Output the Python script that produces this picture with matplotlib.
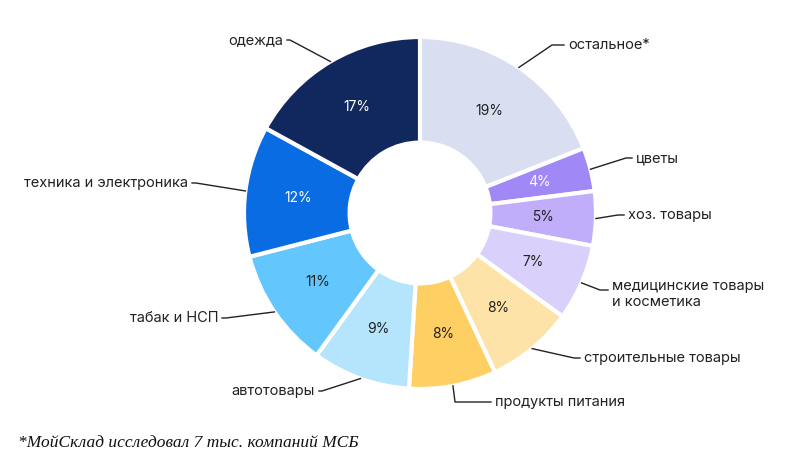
import matplotlib
matplotlib.use("Agg")
import matplotlib.pyplot as plt
import numpy as np

categories = ["остальное*", "цветы", "хоз. товары", "медицинские товары\nи косметика",
              "строительные товары", "продукты питания", "автотовары", "табак и НСП",
              "техника и электроника", "одежда"]
values = [19, 4, 5, 7, 8, 8, 9, 11, 12, 17]
colors = ["#d9dff1", "#a088f6", "#c1aefb", "#d9d0fc", "#fee3a8", "#fecf62",
          "#b4e5fd", "#63c6fd", "#0a6ce2", "#11285f"]
pct_colors = ["#222", "white", "#222", "#222", "#222", "#222", "#222", "#222", "white", "white"]
# label positions in pixels (x, y, ha) and elbow points
label_pos = [(568, 45, "left", 552, 45), (636, 158, "left", 626, 158),
             (628, 215, "left", 618, 215), (612, 294, "left", 600, 290),
             (584, 358, "left", 574, 358), (495, 402, "left", 455, 402),
             (315, 391, "right", 322, 391), (218, 318, "right", 226, 318),
             (188, 183, "right", 196, 183), (283, 40, "right", 290, 40)]

W, H = 798, 467
cx, cy, R = 420, 213, 176
fig = plt.figure(figsize=(W/100, H/100), dpi=100)
half = 1.02 * R
ax = fig.add_axes([(cx-half)/W, (H-cy-half)/H, 2*half/W, 2*half/H])

wedges, _ = ax.pie(values, colors=colors, startangle=90, counterclock=False, radius=1.0,
                   wedgeprops=dict(width=0.6, edgecolor="white", linewidth=3))
ax.set_xlim(-1.02, 1.02); ax.set_ylim(-1.02, 1.02); ax.axis("off")

def p2d(px, py):
    return (px-cx)/R, (cy-py)/R

for w, v, c, lab, (tx, ty, ha, ex, ey) in zip(wedges, values, pct_colors, categories, label_pos):
    a = np.deg2rad((w.theta1 + w.theta2) / 2)
    ax.text(0.7*np.cos(a), 0.7*np.sin(a), f"{v}%", ha="center", va="center",
            fontsize=10, color=c, family="Inter")
    sx, sy = 1.0*np.cos(a), 1.0*np.sin(a)
    exd, eyd = p2d(ex, ey)
    txd, tyd = p2d(tx + (-4 if ha == "left" else 4), ty)
    ax.plot([sx, exd, txd], [sy, eyd, eyd], color="#222", lw=1, clip_on=False)
    ax.text(*p2d(tx, ty), lab, ha=ha, va="center", fontsize=10.5, color="#222",
            family="Inter", clip_on=False, linespacing=1.2)

fig.text(18/W, 1-443/H, "*МойСклад исследовал 7 тыс. компаний МСБ", fontsize=12.5,
         family="Liberation Serif", style="italic", va="center", color="#111")
fig.savefig("out.png", dpi=100)
